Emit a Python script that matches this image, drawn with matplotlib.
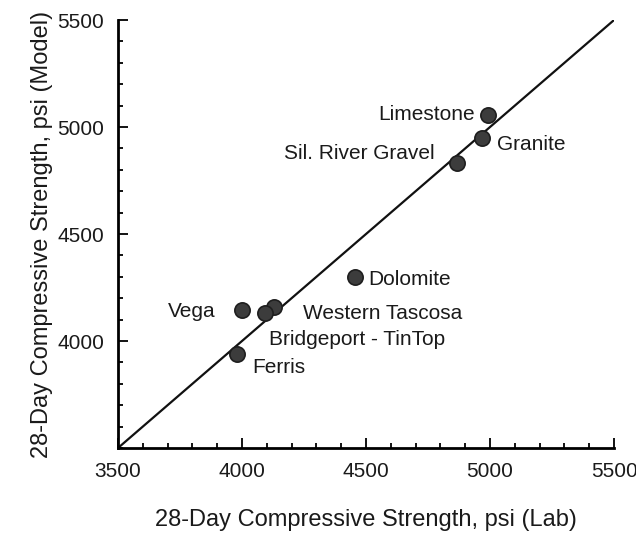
import numpy as np
import matplotlib.pyplot as plt
from matplotlib.ticker import MultipleLocator

plt.rcParams['font.family'] = ['Liberation Sans', 'DejaVu Sans']

# aggregate sources, lab vs model strength (psi)
names = ['Limestone', 'Granite', 'Sil. River Gravel', 'Dolomite', 'Vega',
         'Western Tascosa', 'Bridgeport - TinTop', 'Ferris']
lab = [4992, 4968, 4867, 4456, 4000, 4129, 4093, 3980]
model = [5056, 4949, 4832, 4299, 4145, 4159, 4131, 3939]

# label offsets (points) from each marker, baseline aligned
offsets = [(-9.5, -3.4), (11, -8.4), (-16, 2.6), (9.4, -6.1), (-19, -5.4),
           (21, -9), (3, -23.4), (11, -13.4)]
aligns = ['right', 'left', 'right', 'left', 'right', 'left', 'left', 'left']

fig = plt.figure(figsize=(6.36, 5.35), dpi=100)
ax = fig.add_axes([0.1855, 0.1626, 0.780, 0.800])

ax.plot([3500, 5500], [3500, 5500], color='#111111', lw=1.6, zorder=1)
ax.plot(lab, model, 'o', ms=11, color='#3c3c3c', mec='#1e1e1e', mew=1.2, zorder=2)

for n, x, y, off, ha in zip(names, lab, model, offsets, aligns):
    ax.annotate(n, (x, y), xytext=off, textcoords='offset points',
                ha=ha, va='baseline', fontsize=15, color='#1a1a1a')

ax.set_xlim(3500, 5500)
ax.set_ylim(3500, 5500)
ax.set_xticks([3500, 4000, 4500, 5000, 5500])
ax.set_yticks([4000, 4500, 5000, 5500])
ax.xaxis.set_minor_locator(MultipleLocator(100))
ax.yaxis.set_minor_locator(MultipleLocator(100))
ax.tick_params(which='both', direction='in', width=1.3, labelsize=15,
               labelcolor='#1a1a1a', pad=10)
ax.tick_params(which='major', length=7)
ax.tick_params(which='minor', length=3.5)
for s in ['top', 'right']:
    ax.spines[s].set_visible(False)
for s in ['left', 'bottom']:
    ax.spines[s].set_linewidth(2)

ax.set_xlabel('28-Day Compressive Strength, psi (Lab)', fontsize=17,
              color='#1a1a1a', labelpad=20)
ax.set_ylabel('28-Day Compressive Strength, psi (Model)', fontsize=17,
              color='#1a1a1a', labelpad=3)

fig.savefig('out.png', dpi=100)
